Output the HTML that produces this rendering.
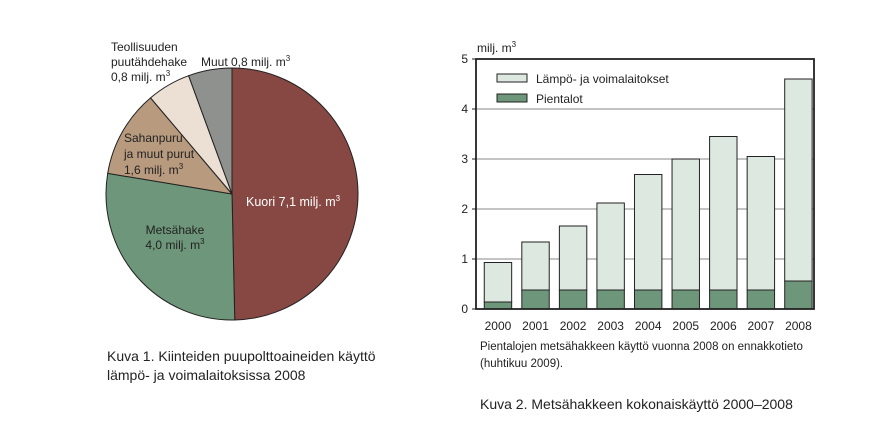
<!DOCTYPE html>
<html><head><meta charset="utf-8"><style>
body{margin:0;background:#fff;}
svg{display:block;font-family:"Liberation Sans",sans-serif;}
</style></head><body>
<svg id="c" width="889" height="422" viewBox="0 0 889 422">
<g id="pie"></g>
<g font-size="12" fill="#222">
<text x="246" y="206" fill="#fff" font-size="12.5">Kuori 7,1 milj. m<tspan dy="-5" font-size="8">3</tspan></text>
<text x="175" y="234" text-anchor="middle">Metsähake</text>
<text x="175" y="249" text-anchor="middle">4,0 milj. m<tspan dy="-5" font-size="8">3</tspan></text>
<text x="124" y="142">Sahanpuru</text>
<text x="124" y="158">ja muut purut</text>
<text x="124" y="174">1,6 milj. m<tspan dy="-5" font-size="8">3</tspan></text>
<text x="111" y="51">Teollisuuden</text>
<text x="111" y="66">puutähdehake</text>
<text x="111" y="81">0,8 milj. m<tspan dy="-5" font-size="8">3</tspan></text>
<text x="201" y="66">Muut 0,8 milj. m<tspan dy="-5" font-size="8">3</tspan></text>
</g>
<g id="bars"></g>
<text x="477" y="52" font-size="12" fill="#222">milj. m<tspan dy="-5" font-size="8">3</tspan></text>
<g font-size="14" fill="#222" font-family="'Liberation Sans',sans-serif">
<text x="107" y="361">Kuva 1. Kiinteiden puupolttoaineiden käyttö</text>
<text x="107" y="380">lämpö- ja voimalaitoksissa 2008</text>
<text x="480" y="409">Kuva 2. Metsähakkeen kokonaiskäyttö 2000–2008</text>
</g>
<g font-size="11.5" fill="#222">
<text x="480" y="350">Pientalojen metsähakkeen käyttö vuonna 2008 on ennakkotieto</text>
<text x="480" y="367">(huhtikuu 2009).</text>
</g>
</svg>
<script>
const pieLabels=["Kuori","Metsähake","Sahanpuru ja muut purut","Teollisuuden puutähdehake","Muut"];
const pieValues=[7.1,4.0,1.6,0.8,0.8];
const pieColors=["#874843","#6e967a","#b89a7f","#ecdfd3","#8e918d"];
const years=["2000","2001","2002","2003","2004","2005","2006","2007","2008"];
const pientalot=[0.14,0.38,0.38,0.38,0.38,0.38,0.38,0.38,0.56];
const totals=[0.93,1.34,1.66,2.12,2.69,3.0,3.45,3.05,4.6];
const yTicks=[0,1,2,3,4,5];
const NS="http://www.w3.org/2000/svg";
function mk(t,a,p){const e=document.createElementNS(NS,t);for(const k in a)e.setAttribute(k,a[k]);p.appendChild(e);return e;}
// pie
const pie=document.getElementById('pie');
const cx=232,cy=194,r=126;
const tot=pieValues.reduce((a,b)=>a+b,0);
let ang=0;
pieValues.forEach((v,i)=>{
  const a0=ang,a1=ang+v/tot*2*Math.PI;ang=a1;
  const x0=cx+r*Math.sin(a0),y0=cy-r*Math.cos(a0),x1=cx+r*Math.sin(a1),y1=cy-r*Math.cos(a1);
  const large=(a1-a0)>Math.PI?1:0;
  const p=mk('path',{d:`M${cx},${cy}L${x0},${y0}A${r},${r} 0 ${large} 1 ${x1},${y1}Z`,fill:pieColors[i],stroke:'#222','stroke-width':1},pie);
  
  
});
// bars
const g=document.getElementById('bars');
const L=476,R=814,T=59,B=309,yMax=5;
const y=v=>B-(v/yMax)*(B-T);
const step=(R-L)/years.length;
const x=i=>L+step*i+step*0.22;
const bw=step*0.73;
yTicks.forEach(t=>{
  if(t>0&&t<yMax){const l=mk('line',{x1:L,x2:R,y1:y(t),y2:y(t),stroke:'#888','stroke-width':1},g);
  
  }
  const tk=mk('line',{x1:L-4,x2:L,y1:y(t),y2:y(t),stroke:'#222'},g);
  
  
  const tx=mk('text',{x:L-8,y:y(t)+4,'text-anchor':'end','font-size':12,fill:'#222'},g);
  tx.textContent=t;
  
  
});
years.forEach((yr,i)=>{
  const b1=mk('rect',{x:x(i),y:y(totals[i]),width:bw,height:y(pientalot[i])-y(totals[i]),fill:'#dde8e0',stroke:'#222','stroke-width':1},g);
  
  
  const b2=mk('rect',{x:x(i),y:y(pientalot[i]),width:bw,height:B-y(pientalot[i]),fill:'#6e967a',stroke:'#222','stroke-width':1},g);
  
  
  const t=mk('text',{x:x(i)+bw/2,y:B+21,'text-anchor':'middle','font-size':12,fill:'#222'},g);
  t.textContent=yr;
  
  
});
const fr=mk('rect',{x:L,y:T,width:R-L,height:B-T,fill:'none',stroke:'#222','stroke-width':1.8},g);


[["Lämpö- ja voimalaitokset","#dde8e0",74],["Pientalot","#6e967a",94]].forEach(([n,c,yy],i)=>{
  const r1=mk('rect',{x:497,y:yy,width:30,height:8,fill:c,stroke:'#222'},g);
  
  
  const t=mk('text',{x:536,y:yy+9,'font-size':12,fill:'#222'},g);
  t.textContent=n;
  
  
});
</script>
</body></html>
